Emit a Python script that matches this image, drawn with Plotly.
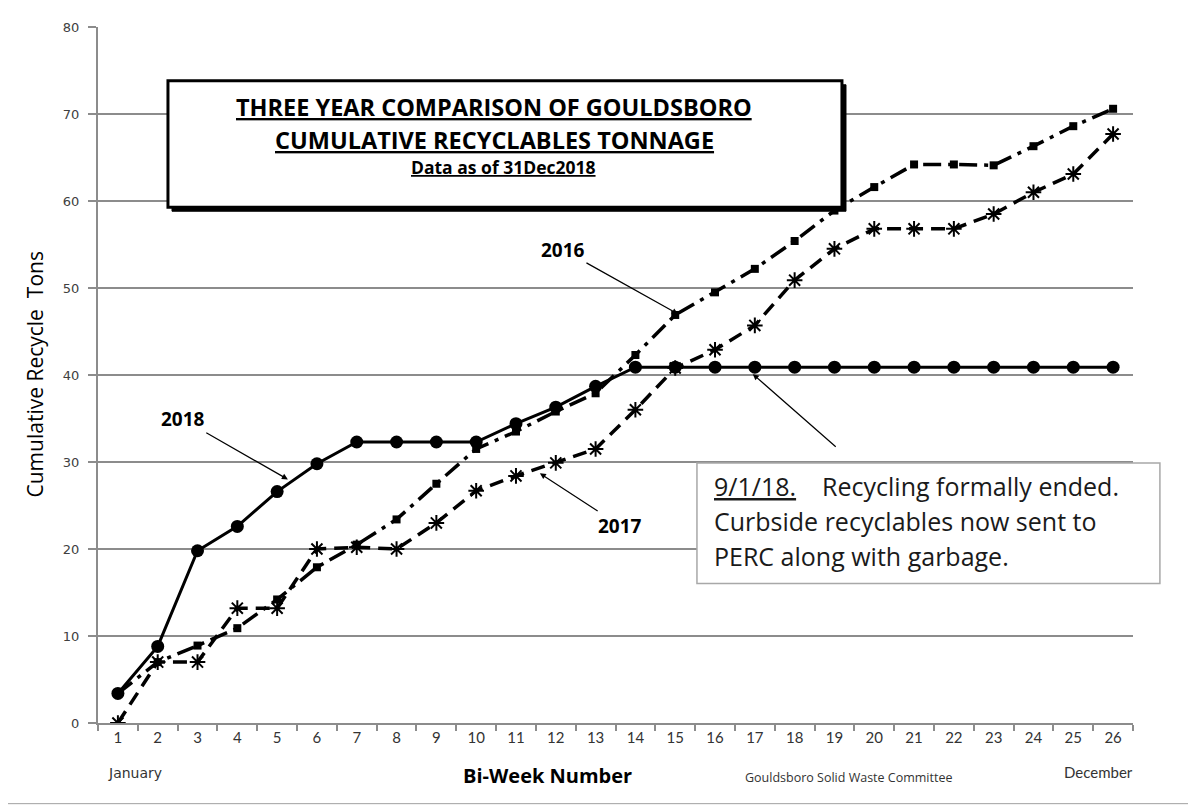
import plotly.graph_objects as go

# ---- data ----
weeks = list(range(1, 27))
tons_2018 = [3.4, 8.8, 19.8, 22.6, 26.6, 29.8, 32.3, 32.3, 32.3, 32.3, 34.4, 36.3, 38.7,
             40.9, 40.9, 40.9, 40.9, 40.9, 40.9, 40.9, 40.9, 40.9, 40.9, 40.9, 40.9, 40.9]
tons_2016 = [3.4, 7.0, 8.9, 10.9, 14.2, 17.9, 20.5, 23.4, 27.5, 31.5, 33.5, 35.8, 37.9,
             42.3, 46.9, 49.5, 52.2, 55.4, 58.9, 61.6, 64.2, 64.2, 64.1, 66.3, 68.6, 70.6]
tons_2017 = [0.0, 7.0, 7.0, 13.2, 13.2, 20.0, 20.2, 20.0, 23.0, 26.7, 28.4, 29.9, 31.5,
             36.0, 40.8, 42.9, 45.7, 50.9, 54.5, 56.8, 56.8, 56.8, 58.5, 61.0, 63.1, 67.7]
y_ticks = [0, 10, 20, 30, 40, 50, 60, 70, 80]
week_labels = [str(w) for w in weeks]

GRID = "#8c8c8c"
FONT = "Open Sans"
TICKFONT = "Lato"

fig = go.Figure()

fig.add_trace(go.Scatter(
    x=week_labels, y=tons_2017, mode="lines+markers", name="2017",
    line=dict(color="black", width=3.5, dash="14px,8px"),
    marker=dict(symbol="asterisk-open", size=13, color="black",
                line=dict(color="black", width=2)),
    showlegend=False))
fig.add_trace(go.Scatter(
    x=week_labels, y=tons_2016, mode="lines+markers", name="2016",
    line=dict(color="black", width=3.5, dash="18px,7px,4px,7px"),
    marker=dict(symbol="square", size=8, color="black"),
    showlegend=False))
fig.add_trace(go.Scatter(
    x=week_labels, y=tons_2018, mode="lines+markers", name="2018",
    line=dict(color="black", width=3),
    marker=dict(symbol="circle", size=13, color="black"),
    showlegend=False))

shapes = [
    # outer frame
    dict(type="rect", xref="paper", yref="paper", x0=-0.0918, x1=1.058, y0=-0.1159, y1=1.030,
         line=dict(color="#a0a0a0", width=1), fillcolor="rgba(0,0,0,0)", layer="below"),
    # title box shadow
    dict(type="rect", xref="paper", yref="paper", x0=0.0715, x1=0.7227, y0=0.7353, y1=0.917,
         line=dict(color="black", width=1), fillcolor="black", layer="above"),
    # title box
    dict(type="rect", xref="paper", yref="paper", x0=0.0676, x1=0.7188, y0=0.741, y1=0.9227,
         line=dict(color="black", width=3), fillcolor="white", layer="above"),
    # note box
    dict(type="rect", xref="paper", yref="paper", x0=0.5787, x1=1.026, y0=0.2003, y1=0.3734,
         line=dict(color="#a8a8a8", width=1.5), fillcolor="white", layer="above"),
]

U = '<span style="text-decoration:underline">{}</span>'


def ptext(x, y, text, size, family=FONT, color="black", xanchor="center", angle=0):
    return dict(xref="paper", yref="paper", x=x, y=y, text=text, showarrow=False,
                xanchor=xanchor, yanchor="middle", textangle=angle,
                font=dict(family=family, size=size, color=color))


def px2x(px):
    return (px - 98) / 1035


def px2y(py):
    return (723 - py) / 699


annotations = [
    ptext(px2x(494), px2y(104), "<b>" + U.format("THREE YEAR COMPARISON OF GOULDSBORO") + "</b>", 23.5),
    ptext(px2x(494), px2y(137), "<b>" + U.format("CUMULATIVE RECYCLABLES TONNAGE") + "</b>", 23.5),
    ptext(px2x(503), px2y(165), "<b>" + U.format("Data as of 31Dec2018") + "</b>", 17.5),
    # note text
    ptext(px2x(712), px2y(485), U.format("9/1/18.") + "\u00a0\u00a0\u00a0 Recycling formally ended.", 25,
          color="#1a1a1a", xanchor="left"),
    ptext(px2x(712), px2y(520), "Curbside recyclables now sent to", 25, color="#1a1a1a", xanchor="left"),
    ptext(px2x(712), px2y(555), "PERC along with garbage.", 25, color="#1a1a1a", xanchor="left"),
    # axis titles and footer texts
    ptext(px2x(35), px2y(373), "Cumulative Recycle\u00a0 Tons", 21, angle=-90),
    ptext(px2x(547), px2y(776), "<b>Bi-Week Number</b>", 20),
    ptext(px2x(135), px2y(773), "January", 14, family="DejaVu Sans", color="#333333"),
    ptext(px2x(1098), px2y(772), "December", 15, family=TICKFONT, color="#333333"),
    ptext(px2x(848), px2y(778), "Gouldsboro Solid Waste Committee", 12.5, color="#333333"),
    # series labels with arrows
    dict(x=4.27, y=28.0, ax=1.63, ay=34.9, axref="x", ayref="y", text="<b>2018</b>",
         showarrow=True, arrowhead=2, arrowsize=1, arrowwidth=1.2, arrowcolor="black",
         font=dict(family=FONT, size=19, color="black")),
    dict(x=14.07, y=47.0, ax=11.18, ay=54.4, axref="x", ayref="y", text="<b>2016</b>",
         showarrow=True, arrowhead=2, arrowsize=1, arrowwidth=1.2, arrowcolor="black",
         font=dict(family=FONT, size=19, color="black")),
    dict(x=10.6, y=28.7, ax=12.61, ay=22.7, axref="x", ayref="y", text="<b>2017</b>",
         showarrow=True, arrowhead=2, arrowsize=1, arrowwidth=1.2, arrowcolor="black",
         font=dict(family=FONT, size=19, color="black")),
    dict(x=15.95, y=40.1, ax=18.07, ay=31.6, axref="x", ayref="y", text="",
         showarrow=True, arrowhead=2, arrowsize=1, arrowwidth=1.2, arrowcolor="black"),
]

fig.update_layout(
    width=1188, height=799,
    margin=dict(l=90, r=63, t=16, b=84),
    paper_bgcolor="white", plot_bgcolor="white",
    shapes=shapes, annotations=annotations,
    showlegend=False,
    xaxis=dict(type="category", tickson="boundaries", ticks="outside", ticklen=6,
               tickcolor=GRID, tickwidth=2, showline=True, linecolor=GRID, linewidth=2,
               showgrid=False, tickfont=dict(family=TICKFONT, size=15, color="#333333"),
               range=[-0.5, 25.5]),
    yaxis=dict(range=[0, 80], tickvals=y_ticks, ticks="outside", ticklen=8,
               tickcolor=GRID, tickwidth=2, showline=True, linecolor=GRID, linewidth=2,
               showgrid=True, gridcolor=GRID, gridwidth=2, zeroline=False,
               tickfont=dict(family="DejaVu Sans", size=13, color="#404040"),
               ticklabelstandoff=6),
)

fig.write_html("out.html")
